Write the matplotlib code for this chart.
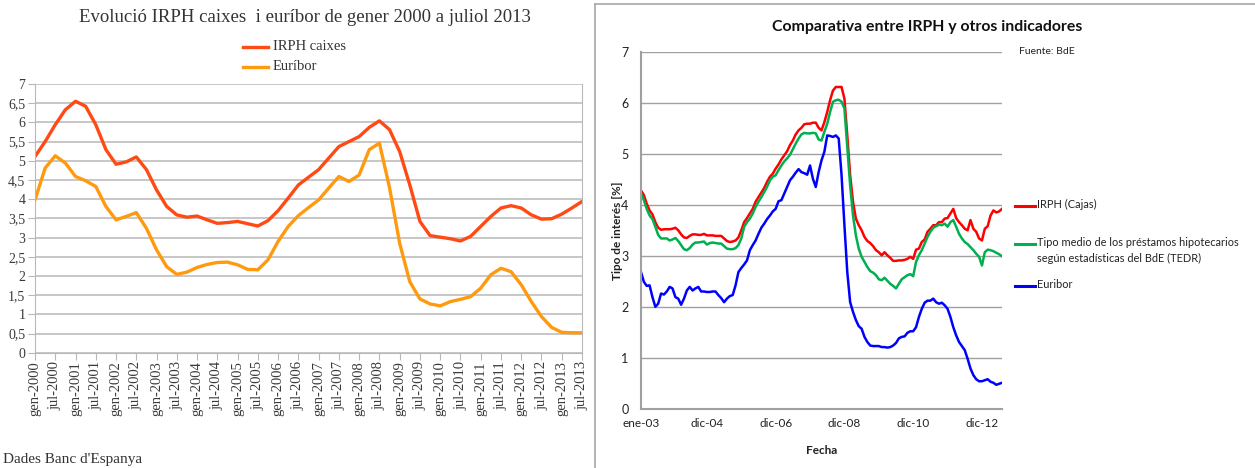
import matplotlib
matplotlib.use("Agg")
import matplotlib.pyplot as plt
from matplotlib.lines import Line2D

W, H = 1255, 468

# ---- left chart: quarterly values, jan-2000 .. jul-2013 (month index) ----
left_months = list(range(0, 163, 3))
irph_caixes = [5.11, 5.50, 5.94, 6.33, 6.55, 6.42, 5.94, 5.29, 4.91, 4.97,
               5.10, 4.77, 4.24, 3.81, 3.59, 3.53, 3.56, 3.46, 3.37, 3.39,
               3.42, 3.36, 3.30, 3.44, 3.70, 4.03, 4.37, 4.57, 4.77, 5.07,
               5.37, 5.50, 5.63, 5.87, 6.04, 5.81, 5.24, 4.37, 3.42, 3.05,
               3.01, 2.97, 2.91, 3.03, 3.29, 3.55, 3.77, 3.83, 3.77, 3.59,
               3.48, 3.49, 3.61, 3.77, 3.94]
euribor_left = [3.98, 4.81, 5.13, 4.94, 4.59, 4.48, 4.33, 3.81, 3.46, 3.55,
                3.65, 3.24, 2.68, 2.24, 2.04, 2.10, 2.22, 2.30, 2.35, 2.36,
                2.29, 2.17, 2.16, 2.42, 2.90, 3.29, 3.57, 3.78, 3.98, 4.29,
                4.59, 4.46, 4.63, 5.29, 5.46, 4.30, 2.85, 1.85, 1.40, 1.27,
                1.22, 1.33, 1.39, 1.46, 1.68, 2.03, 2.20, 2.11, 1.77, 1.33,
                0.94, 0.66, 0.53, 0.52, 0.52]
left_tick_labels = []
for yr in range(2000, 2014):
    left_tick_labels += ["gen-%d" % yr, "jul-%d" % yr]
left_yticks = [0, 0.5, 1, 1.5, 2, 2.5, 3, 3.5, 4, 4.5, 5, 5.5, 6, 6.5, 7]

# ---- right chart: monthly values, ene-03 .. jul-13 ----
irph_cajas = [4.29, 4.20, 4.03, 3.90, 3.82, 3.67, 3.56, 3.52, 3.53, 3.53,
              3.53, 3.54, 3.56, 3.51, 3.43, 3.37, 3.36, 3.40, 3.43, 3.43,
              3.42, 3.42, 3.44, 3.41, 3.41, 3.41, 3.40, 3.40, 3.40, 3.35,
              3.30, 3.28, 3.29, 3.31, 3.37, 3.51, 3.67, 3.75, 3.84, 3.93,
              4.07, 4.16, 4.25, 4.34, 4.46, 4.56, 4.62, 4.72, 4.80, 4.90,
              4.98, 5.06, 5.18, 5.27, 5.39, 5.47, 5.52, 5.59, 5.60, 5.60,
              5.62, 5.62, 5.52, 5.47, 5.63, 5.83, 6.06, 6.25, 6.32, 6.32,
              6.32, 6.09, 5.37, 4.59, 4.07, 3.74, 3.61, 3.51, 3.38, 3.30,
              3.26, 3.20, 3.12, 3.08, 3.02, 3.08, 3.02, 2.97, 2.91, 2.91,
              2.92, 2.92, 2.93, 2.95, 2.99, 2.95, 3.13, 3.15, 3.28, 3.33,
              3.48, 3.54, 3.61, 3.61, 3.67, 3.67, 3.74, 3.75, 3.84, 3.93,
              3.75, 3.67, 3.61, 3.54, 3.51, 3.71, 3.54, 3.48, 3.35, 3.31,
              3.54, 3.59, 3.80, 3.90, 3.86, 3.88, 3.93]
tedr = [4.23, 4.10, 3.93, 3.80, 3.73, 3.58, 3.42, 3.35, 3.35, 3.35,
        3.31, 3.33, 3.36, 3.30, 3.22, 3.14, 3.12, 3.16, 3.23, 3.27,
        3.27, 3.28, 3.29, 3.23, 3.26, 3.27, 3.26, 3.25, 3.25, 3.20,
        3.15, 3.14, 3.14, 3.16, 3.22, 3.35, 3.58, 3.67, 3.74, 3.84,
        3.97, 4.07, 4.16, 4.26, 4.36, 4.49, 4.56, 4.59, 4.69, 4.78,
        4.86, 4.92, 4.99, 5.10, 5.21, 5.31, 5.39, 5.42, 5.41, 5.41,
        5.42, 5.41, 5.29, 5.27, 5.44, 5.60, 5.83, 6.03, 6.06, 6.07,
        6.03, 5.90, 5.14, 4.39, 3.80, 3.41, 3.15, 2.99, 2.89, 2.79,
        2.71, 2.68, 2.63, 2.55, 2.53, 2.58, 2.52, 2.46, 2.42, 2.37,
        2.46, 2.55, 2.59, 2.63, 2.65, 2.61, 2.89, 3.02, 3.12, 3.25,
        3.38, 3.48, 3.56, 3.59, 3.62, 3.61, 3.64, 3.58, 3.67, 3.71,
        3.58, 3.44, 3.35, 3.28, 3.24, 3.18, 3.12, 3.05, 2.99, 2.82,
        3.08, 3.13, 3.12, 3.10, 3.07, 3.04, 3.00]
euribor_right = [2.69, 2.50, 2.42, 2.43, 2.20, 2.01, 2.07, 2.27, 2.25, 2.31,
                 2.40, 2.37, 2.20, 2.17, 2.05, 2.17, 2.33, 2.40, 2.33, 2.37,
                 2.40, 2.31, 2.31, 2.30, 2.30, 2.31, 2.31, 2.24, 2.18, 2.10,
                 2.17, 2.22, 2.24, 2.43, 2.69, 2.77, 2.84, 2.92, 3.12, 3.22,
                 3.31, 3.44, 3.56, 3.64, 3.73, 3.80, 3.88, 3.93, 4.08, 4.10,
                 4.23, 4.36, 4.49, 4.56, 4.64, 4.71, 4.65, 4.63, 4.60, 4.78,
                 4.52, 4.36, 4.65, 4.88, 5.05, 5.37, 5.36, 5.34, 5.37, 5.31,
                 4.59, 3.61, 2.69, 2.10, 1.91, 1.75, 1.63, 1.58, 1.42, 1.32,
                 1.25, 1.24, 1.24, 1.24, 1.22, 1.22, 1.21, 1.22, 1.25, 1.30,
                 1.39, 1.42, 1.43, 1.50, 1.53, 1.53, 1.61, 1.81, 1.97, 2.09,
                 2.13, 2.13, 2.17, 2.10, 2.07, 2.09, 2.04, 1.97, 1.81, 1.61,
                 1.45, 1.32, 1.24, 1.16, 0.99, 0.80, 0.67, 0.59, 0.55, 0.55,
                 0.57, 0.59, 0.54, 0.52, 0.48, 0.50, 0.52]
right_months = list(range(len(irph_cajas)))
right_tick_pos = [0, 23, 47, 71, 95, 119]
right_tick_labels = ["ene-03", "dic-04", "dic-06", "dic-08", "dic-10", "dic-12"]


def fx(px):
    return px / W


def fy(py):
    return 1 - py / H


fig = plt.figure(figsize=(W / 100, H / 100), dpi=100)
serif = "Liberation Serif"
sans = "Lato"

# ================= left chart =================
axl = fig.add_axes([fx(35), fy(352.7), fx(582) - fx(35), fy(84) - fy(352.7)])
axl.plot(left_months, irph_caixes, color="#ff4a14", lw=2.4,
         solid_joinstyle="round", solid_capstyle="round")
axl.plot(left_months, euribor_left, color="#ff9a0f", lw=2.4,
         solid_joinstyle="round", solid_capstyle="round")
axl.set_xlim(0, 162)
axl.set_ylim(0, 7)
axl.set_xticks(list(range(0, 163, 6)))
axl.set_xticklabels(left_tick_labels, rotation=90, fontsize=10.5,
                    family=serif, color="#3a3a3a")
axl.set_yticks(left_yticks)
axl.set_yticklabels([("%g" % v).replace(".", ",") for v in left_yticks],
                    fontsize=10, family=serif, color="#3a3a3a")
axl.yaxis.grid(True, color="#b8b8b8", lw=1.1)
axl.set_axisbelow(True)
for s in ["left", "right", "bottom"]:
    axl.spines[s].set_color("#b8b8b8")
axl.spines["top"].set_visible(False)
axl.tick_params(axis="both", direction="out", length=5, color="#b8b8b8",
                pad=2)
axl.tick_params(axis="x", pad=1)

fig.text(fx(305), fy(18), "Evolució IRPH caixes  i euríbor de gener 2000 a juliol 2013",
         ha="center", va="center", fontsize=13.5, family=serif, color="#333333")
for py, col, lab in [(47, "#ff4a14", "IRPH caixes"), (67, "#ff9a0f", "Euríbor")]:
    fig.add_artist(Line2D([fx(243), fx(268)], [fy(py), fy(py)], color=col, lw=2.4))
    fig.text(fx(273), fy(py), lab, ha="left", va="center", fontsize=10.5,
             family=serif, color="#333333")
fig.text(fx(3), fy(460), "Dades Banc d'Espanya", ha="left", va="center",
         fontsize=11, family=serif, color="#333333")

# ================= right chart =================
fig.add_artist(Line2D([fx(595), fx(595)], [0, fy(4.3)], color="#a8a8a8", lw=1.2))
fig.add_artist(Line2D([fx(595), 1], [fy(4.3), fy(4.3)], color="#a8a8a8", lw=1.2))

axr = fig.add_axes([fx(641), fy(409.3), fx(1002) - fx(641), fy(52.3) - fy(409.3)])
axr.plot(right_months, irph_cajas, color="#ff0000", lw=1.8)
axr.plot(right_months, tedr, color="#00b050", lw=1.8)
axr.plot(right_months, euribor_right, color="#0000ff", lw=1.8)
axr.set_xlim(0, 126)
axr.set_ylim(0, 7)
axr.set_xticks(right_tick_pos)
axr.set_xticklabels(right_tick_labels, fontsize=8.5, family=sans, color="#222222")
axr.set_yticks(range(8))
axr.set_yticklabels([str(v) for v in range(8)], fontsize=9, family=sans,
                    color="#222222")
axr.yaxis.grid(True, color="#a0a0a0", lw=1)
axr.set_axisbelow(True)
axr.tick_params(axis="both", length=0, pad=9)
axr.tick_params(axis="x", pad=6)
for s in ["top", "right"]:
    axr.spines[s].set_visible(False)
for s in ["left", "bottom"]:
    axr.spines[s].set_color("#a0a0a0")
    axr.spines[s].set_linewidth(1.5)
axr.set_ylabel("Tipo de interés [%]", fontsize=8.5, family=sans,
               fontweight="bold", color="#222222", labelpad=-1)
axr.set_xlabel("Fecha", fontsize=8.5, family=sans, fontweight="bold",
               color="#222222", labelpad=12)

fig.text(fx(927), fy(27), "Comparativa entre IRPH y otros indicadores",
         ha="center", va="center", fontsize=11.4, family=sans,
         fontweight="bold", color="#111111")
fig.text(fx(1019), fy(52), "Fuente: BdE", ha="left", va="center",
         fontsize=7.5, family=sans, color="#222222")

legend_rows = [(206, "#ff0000", "IRPH (Cajas)"),
               (244, "#00b050", "Tipo medio de los préstamos hipotecarios\nsegún estadísticas del BdE (TEDR)"),
               (286, "#0000ff", "Euribor")]
for py, col, lab in legend_rows:
    fig.add_artist(Line2D([fx(1015), fx(1035)], [fy(py), fy(py)], color=col, lw=2.2))
    fig.text(fx(1037), fy(py - 7), lab, ha="left", va="top", fontsize=7.9,
             family=sans, color="#222222", linespacing=1.55)

fig.savefig("out.png", dpi=100)
